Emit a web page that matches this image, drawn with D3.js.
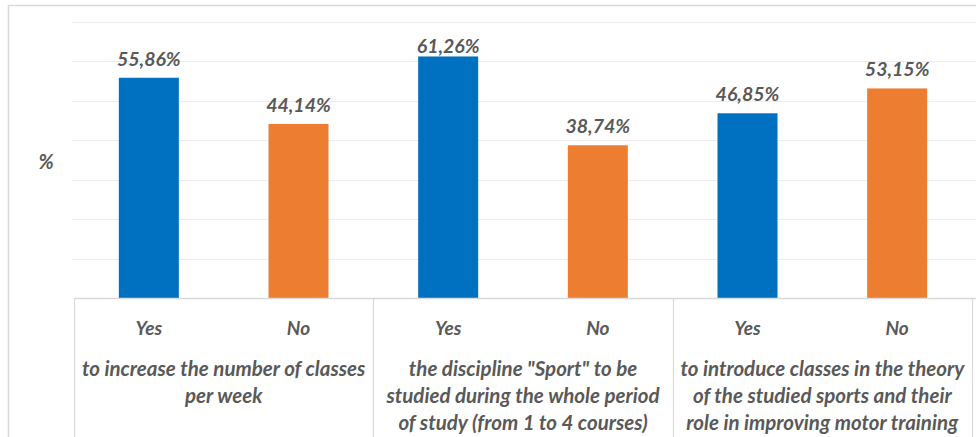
<!DOCTYPE html>
<html>
<head>
<meta charset="utf-8">
<script src="https://cdn.jsdelivr.net/npm/d3@7"></script>
<style>
  html, body { margin: 0; padding: 0; background: #fff; }
  svg { display: block; }
  text { font-family: Lato, "Open Sans", sans-serif; font-style: italic; font-weight: bold; fill: #595959; }
</style>
</head>
<body>
<svg id="chart" width="976" height="437"></svg>
<script>
// Survey answers, percent of respondents
const groups = ["increase", "sport", "theory"];
const groupLabels = [
  ["to increase the number of classes", "per week"],
  ["the discipline \"Sport\" to be", "studied during the whole period", "of study (from 1 to 4 courses)"],
  ["to introduce classes in the theory", "of the studied sports and their", "role in improving motor training"]
];
const answers = ["Yes", "No"];
const yesValues = [55.86, 61.26, 46.85];
const noValues = [44.14, 38.74, 53.15];
const yTicks = [0, 10, 20, 30, 40, 50, 60, 70];
const colors = { Yes: "#0070C0", No: "#ED7D31" };

const rows = [];
groups.forEach((g, i) => {
  rows.push({ group: g, answer: "Yes", value: yesValues[i] });
  rows.push({ group: g, answer: "No", value: noValues[i] });
});

const svg = d3.select("#chart");
const W = 976, H = 437;
const plot = { left: 74, right: 972, top: 22, bottom: 298 };

// outer chart frame
svg.append("rect")
  .attr("x", 8.5).attr("y", 5.5)
  .attr("width", W + 20).attr("height", H + 20)
  .attr("fill", "none").attr("stroke", "#d9d9d9").attr("stroke-width", 1.5);

const x0 = d3.scaleBand().domain(groups).range([plot.left, plot.right]).padding(0);
const x1 = d3.scaleBand().domain(answers).range([0, x0.bandwidth()]).paddingInner(0.6).paddingOuter(0.3);
const y = d3.scaleLinear().domain([0, 70]).range([plot.bottom, plot.top]);

// horizontal gridlines
svg.append("g").selectAll("line").data(yTicks.filter(t => t > 0)).join("line")
  .attr("x1", plot.left - 2).attr("x2", W)
  .attr("y1", d => Math.round(y(d)) + 0.5).attr("y2", d => Math.round(y(d)) + 0.5)
  .attr("stroke", "#ececec").attr("stroke-width", 1.2);

// bars
const barW = 60;
svg.append("g").selectAll("rect").data(rows).join("rect")
  .attr("x", d => x0(d.group) + x1(d.answer) + x1.bandwidth() / 2 - barW / 2)
  .attr("y", d => y(d.value))
  .attr("width", barW)
  .attr("height", d => y(0) - y(d.value))
  .attr("fill", d => colors[d.answer]);

// value labels, kept inside the upper edge of the plot
svg.append("g").selectAll("text").data(rows).join("text")
  .attr("x", d => x0(d.group) + x1(d.answer) + x1.bandwidth() / 2)
  .attr("y", d => Math.max(y(d.value) - 12, plot.top + 31))
  .attr("text-anchor", "middle")
  .attr("font-size", 19.5)
  .text(d => d.value.toFixed(2).replace(".", ",") + "%");

// category axis: baseline and group separators
svg.append("line")
  .attr("x1", plot.left).attr("x2", W)
  .attr("y1", plot.bottom + 0.5).attr("y2", plot.bottom + 0.5)
  .attr("stroke", "#d9d9d9").attr("stroke-width", 1.5);

const seps = groups.map(g => x0(g)).concat([plot.right]);
svg.append("g").selectAll("line").data(seps).join("line")
  .attr("x1", d => Math.round(d) + 0.5).attr("x2", d => Math.round(d) + 0.5)
  .attr("y1", plot.bottom).attr("y2", H)
  .attr("stroke", "#d9d9d9").attr("stroke-width", 1.2);

// answer labels
svg.append("g").selectAll("text").data(rows).join("text")
  .attr("x", d => x0(d.group) + x1(d.answer) + x1.bandwidth() / 2)
  .attr("y", 335)
  .attr("text-anchor", "middle")
  .attr("font-size", 19)
  .text(d => d.answer);

// group labels
const gl = svg.append("g").selectAll("text").data(groups).join("text")
  .attr("x", d => x0(d) + x0.bandwidth() / 2)
  .attr("text-anchor", "middle")
  .attr("font-size", 20.5);
gl.selectAll("tspan").data((d, i) => groupLabels[i]).join("tspan")
  .attr("x", function () { return this.parentNode.getAttribute("x"); })
  .attr("y", (d, i) => 376 + i * 27)
  .text(d => d);

// y-axis title
svg.append("text")
  .attr("x", 46).attr("y", 169)
  .attr("text-anchor", "middle")
  .attr("font-size", 20)
  .text("%");
</script>
</body>
</html>
